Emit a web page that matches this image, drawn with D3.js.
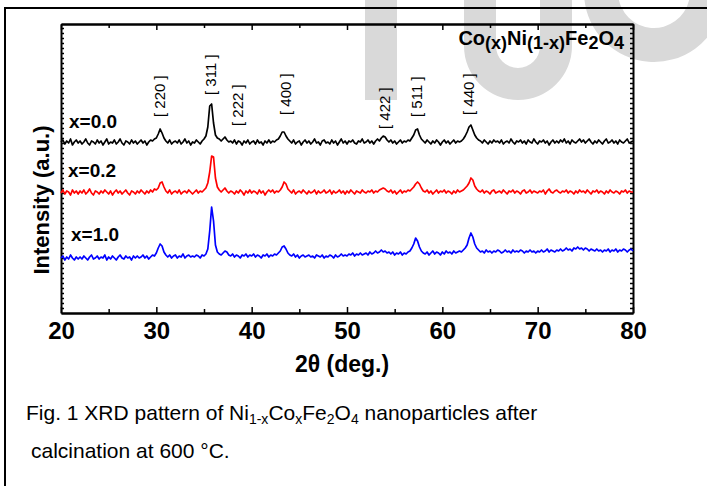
<!DOCTYPE html>
<html>
<head>
<meta charset="utf-8">
<script src="https://cdn.jsdelivr.net/npm/d3@7"></script>
<style>
  body { margin: 0; background: #fff; }
  svg { display: block; font-family: Arial, "Liberation Sans", sans-serif; }
</style>
</head>
<body>
<div id="chart"></div>
<script>
// XRD scans, sampled every 0.2 deg from 20 to 80 deg (intensity in a.u.)
const startAngle = 20
const stepAngle = 0.2

const sampleNames = ["x=0.0", "x=0.2", "x=1.0"]
const sampleColors = ["#000000", "#ff0000", "#0000ff"]

const intensity00 = [
  171,173,169,172,170,174,168,171,173,170,
  172,169,171,174,170,168,172,171,169,173,
  170,172,168,171,174,169,171,170,173,169,
  171,174,170,168,172,171,169,173,170,172,
  169,171,173,170,172,168,171,173,172,174,
  175,179,184,180,175,172,170,173,169,171,
  172,170,173,169,171,174,170,172,168,171,
  170,173,171,169,172,174,177,186,207,209,
  190,178,175,174,172,174,176,173,171,172,
  170,173,169,172,171,168,172,170,173,169,
  171,172,169,173,170,171,168,172,170,173,
  170,172,171,173,174,177,181,181,177,174,
  172,170,173,169,171,172,168,171,173,170,
  172,169,171,174,170,171,168,172,173,170,
  171,169,173,170,172,168,171,174,170,172,
  169,172,171,173,170,169,172,171,174,170,
  171,173,170,172,169,172,174,172,175,177,
  176,173,171,173,170,172,169,171,173,170,
  172,171,173,172,175,178,183,184,178,174,
  172,170,173,171,169,172,170,173,171,168,
  171,173,170,172,169,171,173,170,172,171,
  172,174,177,181,186,188,183,178,175,173,
  172,170,173,171,169,172,170,173,171,172,
  170,173,169,171,172,170,174,171,169,172,
  171,173,170,172,169,173,171,170,174,171,
  169,172,171,173,170,172,168,171,173,170,
  172,170,173,171,174,170,172,169,173,171,
  170,172,174,171,173,170,172,174,171,169,
  172,170,173,171,169,172,174,170,171,173,
  170,172,169,173,171,170,172,174,170,171,
  172
]

const intensity02 = [
  120,123,119,122,121,118,123,120,122,119,
  122,120,123,119,121,124,120,118,122,121,
  119,122,120,123,121,119,122,118,121,123,
  120,122,119,121,123,120,118,122,121,119,
  122,120,123,121,119,122,120,123,121,124,
  123,125,130,131,126,122,120,123,119,121,
  122,120,123,119,121,122,120,123,121,119,
  121,123,120,122,121,123,125,130,141,157,
  156,135,126,123,121,123,125,122,120,122,
  121,119,122,120,123,121,118,122,120,123,
  120,122,121,119,123,120,122,118,121,123,
  121,123,120,122,121,123,126,131,129,124,
  122,120,123,119,121,122,120,123,121,119,
  122,120,121,123,119,122,120,121,123,120,
  121,123,119,122,120,121,123,120,122,119,
  122,120,123,121,119,122,121,120,123,121,
  120,122,121,123,120,122,121,123,124,125,
  124,122,121,123,120,122,119,121,123,120,
  122,121,123,122,124,126,129,131,129,125,
  122,121,123,120,122,119,121,123,120,122,
  121,123,120,122,121,119,122,120,123,121,
  122,123,125,127,130,135,133,127,124,122,
  121,123,120,122,121,119,122,123,120,121,
  122,120,123,121,119,122,121,123,120,122,
  121,119,122,123,120,121,123,120,122,121,
  120,122,121,123,119,122,124,121,120,122,
  123,121,120,122,121,123,120,122,121,119,
  122,120,123,121,122,120,123,121,119,122,
  121,123,120,122,121,119,122,120,123,121,
  120,122,121,119,122,121,123,120,122,121,
  121
]

const intensity10 = [
  55,57,53,56,54,58,55,53,56,54,
  56,54,57,55,53,56,58,54,55,57,
  54,56,55,58,53,56,54,57,55,53,
  56,58,55,54,57,55,56,53,57,55,
  57,55,56,58,55,57,54,56,58,57,
  60,65,69,67,61,58,56,58,55,57,
  58,55,57,56,59,55,57,58,56,57,
  56,58,57,55,58,57,59,64,82,106,
  92,68,61,59,58,60,62,61,58,57,
  59,56,58,57,55,58,57,59,56,58,
  57,59,56,58,57,55,58,57,59,56,
  58,57,59,58,60,62,66,67,64,60,
  58,57,59,56,58,55,57,58,56,57,
  58,56,57,55,58,57,56,58,55,57,
  56,58,57,55,58,56,57,59,57,58,
  57,59,58,60,57,59,58,60,58,59,
  60,58,61,59,60,62,60,61,63,61,
  62,60,61,59,61,58,60,59,61,58,
  60,59,61,62,65,69,75,72,66,62,
  60,59,61,58,60,62,59,61,60,58,
  61,59,62,60,61,59,62,60,61,62,
  61,63,65,68,75,80,76,69,65,63,
  61,62,60,63,61,62,60,62,61,63,
  62,60,61,63,61,62,60,63,61,62,
  61,63,62,60,62,61,63,61,62,60,
  62,61,63,61,62,64,61,63,62,61,
  63,62,64,62,63,65,63,64,62,65,
  64,66,64,65,63,65,64,62,64,63,
  62,64,62,63,61,63,62,64,61,63,
  62,64,61,63,62,64,63,61,63,64,
  62
]

// reflection labels (hkl), where they sit in 2theta and the level their lower end starts at
const peakLabels = ["[ 220 ]", "[ 311 ]", "[ 222 ]", "[ 400 ]", "[ 422 ]", "[ 511 ]", "[ 440 ]"]
const peakLabelAngles = [30.4, 35.7, 38.5, 43.6, 54.0, 57.35, 62.8]
const peakLabelLevels = [196, 218, 187, 198, 184, 196, 198]

const xTicks = [20, 30, 40, 50, 60, 70, 80]
const xMinorTicks = [25, 35, 45, 55, 65, 75]

// layout
const W = 707, H = 486
const plot = { left: 61, right: 633, top: 24, bottom: 313 }

const svg = d3.select("#chart").append("svg")
    .attr("width", W)
    .attr("height", H)

// watermark behind everything
const wm = svg.append("g").attr("fill", "#d9d9d9")
wm.append("rect").attr("x", 365).attr("y", 0).attr("width", 32).attr("height", 100)
wm.append("path").attr("d", "M464,0 h32 v46 a22,22 0 0 0 44,0 v-46 h32 v46 a54,54 0 0 1 -108,0 z")
wm.append("path").attr("d", d3.arc()({ innerRadius: 36, outerRadius: 70, startAngle: Math.PI * 0.35, endAngle: Math.PI * 1.7 }))
    .attr("transform", "translate(654,-8)")

// outer frame (only top and left show)
svg.append("path")
    .attr("d", `M5,${H} V8 H${W}`)
    .attr("fill", "none")
    .attr("stroke", "#000")
    .attr("stroke-width", 2)

const x = d3.scaleLinear().domain([20, 80]).range([plot.left, plot.right])
const y = d3.scaleLinear().domain([0, 289]).range([plot.bottom, plot.top])

// axes, ticks point inwards
svg.append("g")
    .attr("transform", `translate(0,${plot.bottom})`)
    .call(d3.axisBottom(x).tickValues(xTicks).tickSizeInner(-6).tickSizeOuter(0).tickPadding(9).tickFormat(d3.format("d")))
    .call(g => g.selectAll("text").attr("font-size", 24).attr("font-weight", "bold").attr("fill", "#000").attr("font-family", "Arial, 'Liberation Sans', sans-serif"))
svg.append("g")
    .attr("transform", `translate(0,${plot.bottom})`)
    .call(d3.axisBottom(x).tickValues(xMinorTicks).tickSizeInner(-4).tickSizeOuter(0).tickFormat(""))
svg.append("g")
    .attr("transform", `translate(0,${plot.top})`)
    .call(d3.axisTop(x).tickValues(xTicks).tickSizeInner(-6).tickSizeOuter(0).tickFormat(""))
svg.append("g")
    .attr("transform", `translate(0,${plot.top})`)
    .call(d3.axisTop(x).tickValues(xMinorTicks).tickSizeInner(-4).tickSizeOuter(0).tickFormat(""))

const yTicks = d3.range(5, 289, 5)
svg.append("g")
    .attr("transform", `translate(${plot.left},0)`)
    .call(d3.axisLeft(y).tickValues(yTicks).tickSizeInner(-3).tickSizeOuter(0).tickFormat(""))
svg.append("g")
    .attr("transform", `translate(${plot.right},0)`)
    .call(d3.axisRight(y).tickValues(yTicks).tickSizeInner(-3).tickSizeOuter(0).tickFormat(""))

svg.selectAll(".domain").attr("stroke-width", 2)
svg.selectAll(".tick line").attr("stroke-width", 1.5)

// traces
const line = d3.line()
    .x((d, i) => x(startAngle + i * stepAngle))
    .y(d => y(d))

const scans = [intensity00, intensity02, intensity10]
svg.append("g")
    .selectAll("path")
    .data(scans)
    .join("path")
    .attr("d", line)
    .attr("fill", "none")
    .attr("stroke", (d, i) => sampleColors[i])
    .attr("stroke-width", 1.7)
    .attr("stroke-linejoin", "round")

// sample labels
const sampleLabelPos = [[69, 128], [68, 177], [71, 241]]
svg.append("g")
    .selectAll("text")
    .data(sampleNames)
    .join("text")
    .attr("x", (d, i) => sampleLabelPos[i][0])
    .attr("y", (d, i) => sampleLabelPos[i][1])
    .attr("font-size", 19)
    .attr("font-weight", "bold")
    .text(d => d)

// hkl labels, rotated
svg.append("g")
    .selectAll("text")
    .data(peakLabels)
    .join("text")
    .attr("transform", (d, i) => `translate(${x(peakLabelAngles[i])},${y(peakLabelLevels[i])}) rotate(-90)`)
    .attr("dy", "0.35em")
    .attr("font-size", 15)
    .text(d => d)

// compound formula
const formula = svg.append("text")
    .attr("x", 624)
    .attr("y", 45)
    .attr("text-anchor", "end")
    .attr("font-size", 20)
    .attr("font-weight", "bold")
const parts = [["Co", 0], ["(x)", 1], ["Ni", 0], ["(1-x)", 1], ["Fe", 0], ["2", 1], ["O", 0], ["4", 1]]
let shift = 0
parts.forEach(p => {
    const dy = p[1] ? 4 - shift : -shift
    shift = p[1] ? 4 : 0
    formula.append("tspan")
        .attr("dy", dy)
        .attr("font-size", p[1] ? 18 : 20)
        .text(p[0])
})

// axis titles
svg.append("text")
    .attr("x", 342)
    .attr("y", 372)
    .attr("text-anchor", "middle")
    .attr("font-size", 23)
    .attr("font-weight", "bold")
    .text("2θ (deg.)")

svg.append("text")
    .attr("transform", "translate(49,200) rotate(-90)")
    .attr("text-anchor", "middle")
    .attr("font-size", 22)
    .attr("font-weight", "bold")
    .text("Intensity (a.u.)")

// caption
const cap1 = svg.append("text").attr("x", 26).attr("y", 420).attr("font-size", 21)
const capParts = [["Fig. 1 XRD pattern of Ni", 0], ["1-x", 1], ["Co", 0], ["x", 1], ["Fe", 0], ["2", 1], ["O", 0], ["4", 1], [" nanoparticles after", 0]]
let cshift = 0
capParts.forEach(p => {
    const dy = p[1] ? 4 - cshift : -cshift
    cshift = p[1] ? 4 : 0
    cap1.append("tspan")
        .attr("dy", dy)
        .attr("font-size", p[1] ? 14 : 21)
        .text(p[0])
})
svg.append("text")
    .attr("x", 31)
    .attr("y", 458)
    .attr("font-size", 21)
    .text("calcination at 600 °C.")
</script>
</body>
</html>
